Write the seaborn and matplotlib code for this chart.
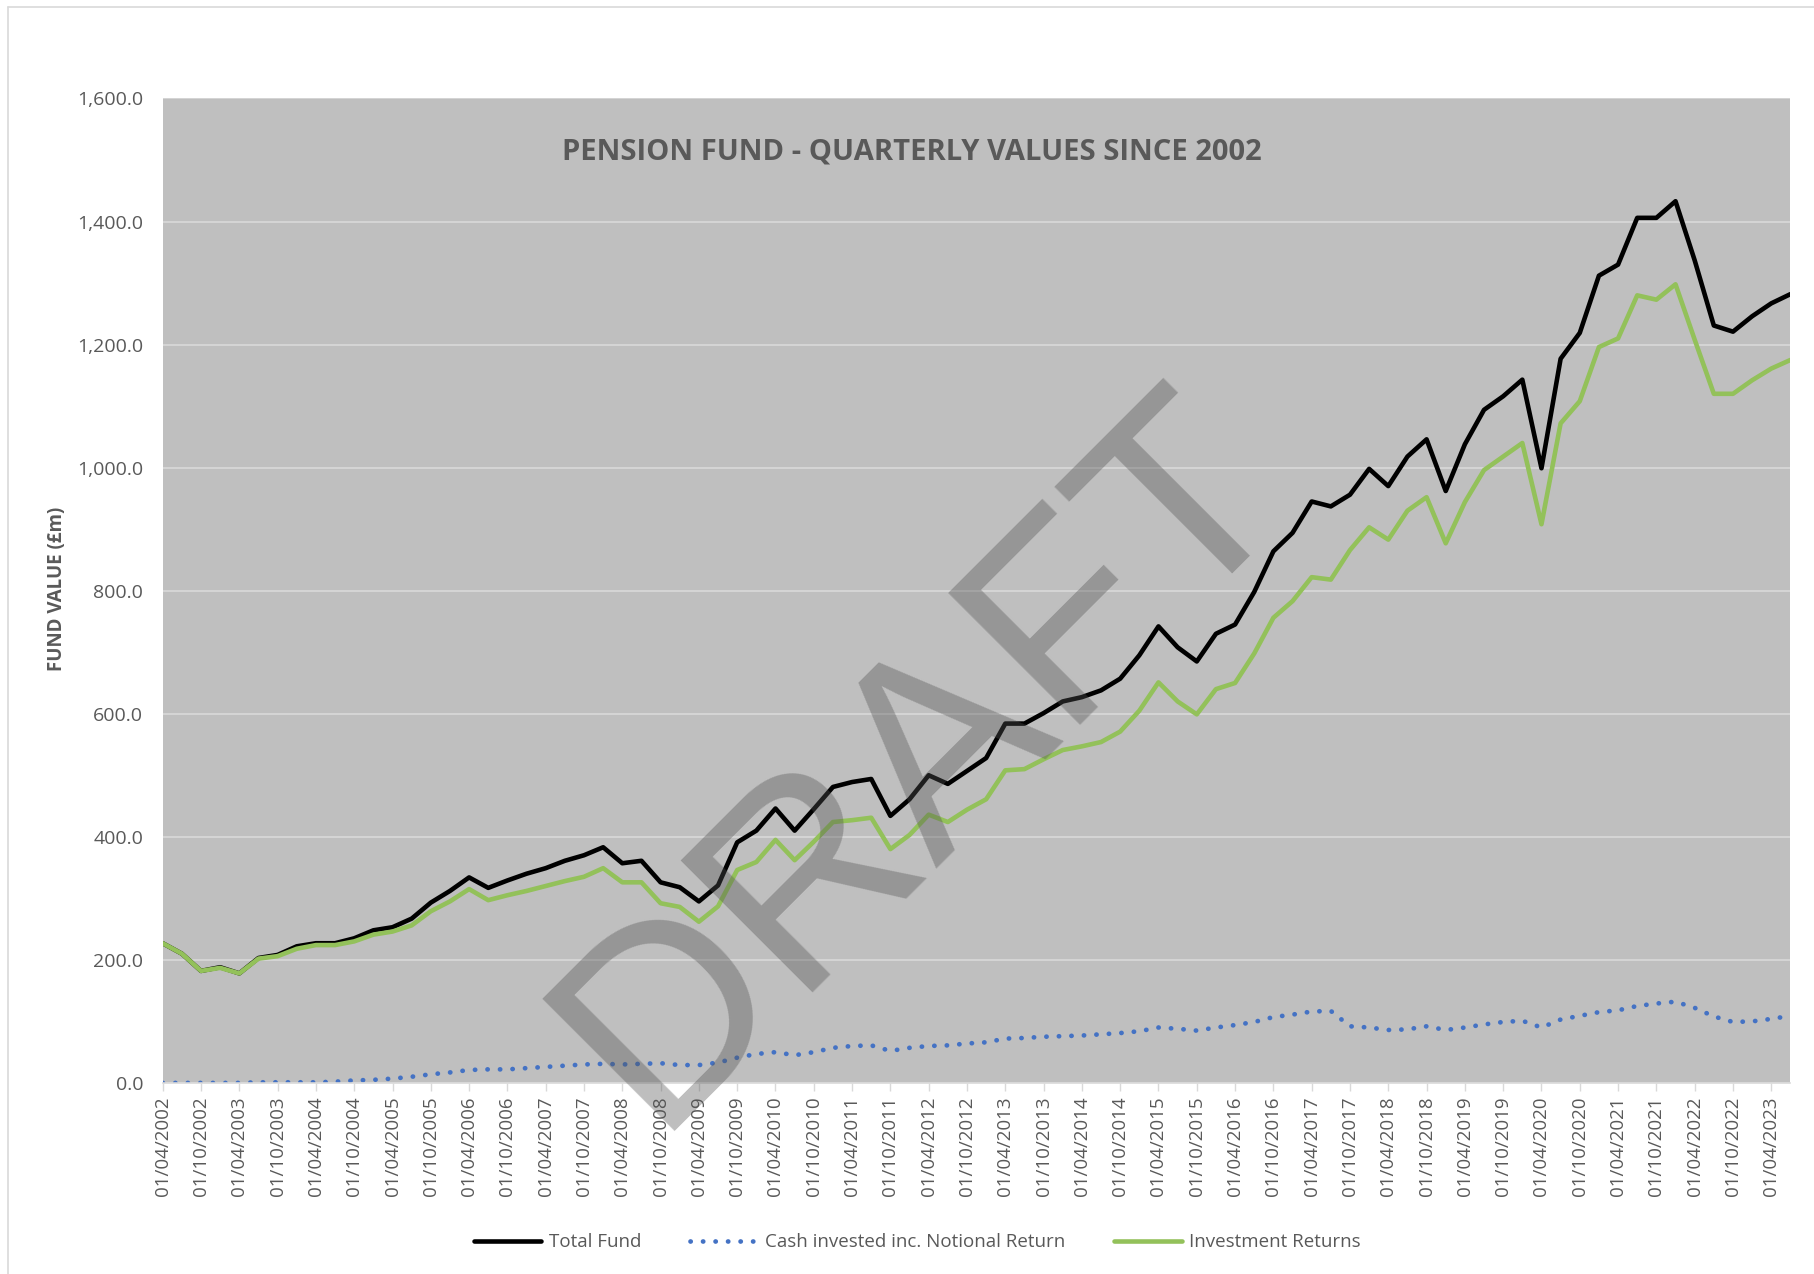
"""
Pension fund - quarterly values since 2002 (Excel style line chart, redrawn with seaborn)
"""
import numpy as np
import pandas as pd
import matplotlib.pyplot as plt
from matplotlib.lines import Line2D
from matplotlib.ticker import FuncFormatter
import seaborn as sns

# quarterly dates, 01/04/2002 .. 01/07/2023
quarters = pd.date_range("2002-04-01", "2023-07-01", freq="QS-JAN")
quarter_labels = quarters.strftime("%d/%m/%Y").tolist()

# values in £m
total_fund = [227, 210, 182, 188, 178, 203, 208, 222, 227, 227,
              235, 248, 253, 267, 293, 312, 334, 317, 329, 340,
              349, 361, 370, 383, 357, 361, 326, 318, 295, 321,
              391, 410, 446, 410, 445, 481, 489, 494, 434, 461,
              500, 486, 507, 528, 584, 584, 601, 620, 627, 638,
              657, 695, 742, 708, 685, 730, 745, 798, 864, 894,
              945, 937, 956, 998, 970, 1018, 1046, 962, 1038, 1094,
              1116, 1143, 999, 1177, 1219, 1312, 1330, 1406, 1406, 1433,
              1337, 1231, 1221, 1246, 1267, 1282]

cash_invested = [0, 0, 0, 0, 0, 1, 1, 1, 1, 2,
                 4, 5, 7, 10, 14, 17, 21, 22, 22, 24,
                 26, 28, 30, 31, 30, 31, 32, 29, 29, 33,
                 41, 47, 50, 45, 50, 57, 60, 61, 52, 57,
                 60, 61, 64, 66, 72, 73, 75, 76, 77, 79,
                 81, 84, 90, 88, 85, 90, 94, 99, 107, 111,
                 116, 117, 92, 90, 86, 87, 92, 86, 90, 95,
                 99, 101, 90, 103, 109, 115, 118, 125, 129, 132,
                 122, 108, 99, 100, 104, 109]

investment_returns = [227, 210, 182, 187, 178, 202, 206, 218, 224, 224,
                      230, 241, 246, 256, 279, 295, 315, 297, 305, 312,
                      320, 328, 335, 349, 326, 326, 292, 286, 262, 287,
                      346, 359, 395, 362, 392, 424, 427, 431, 380, 403,
                      436, 424, 444, 461, 508, 510, 526, 541, 547, 554,
                      571, 605, 651, 620, 599, 640, 650, 698, 756, 783,
                      822, 818, 866, 903, 883, 930, 952, 877, 944, 996,
                      1018, 1040, 908, 1072, 1108, 1196, 1210, 1280, 1273, 1298,
                      1208, 1120, 1120, 1142, 1161, 1175]

df = pd.DataFrame({
    "q": np.arange(len(quarters)),
    "total": total_fund,
    "cash": cash_invested,
    "returns": investment_returns,
})

GREY_TXT = "#595959"
GRID = "#d9d9d9"

sns.set_style("white")
plt.rcParams["font.family"] = ["Open Sans", "DejaVu Sans"]

fig = plt.figure(figsize=(18.14, 12.74), dpi=100)
ax = fig.add_axes([0.0897, 0.150, 0.8973, 0.7727])
ax.set_facecolor("#bfbfbf")

sns.lineplot(data=df, x="q", y="total", ax=ax, color="black", linewidth=3.3,
             label="Total Fund")
sns.lineplot(data=df, x="q", y="cash", ax=ax, color="#4472c4", linewidth=3.4,
             linestyle=(0, (0.05, 2.6)), dash_capstyle="round",
             label="Cash invested inc. Notional Return")
sns.lineplot(data=df, x="q", y="returns", ax=ax, color="#93c15a", linewidth=3.3,
             label="Investment Returns")

ax.set_xlim(0, len(quarters) - 1)
ax.set_ylim(0, 1600)
ax.set_yticks(np.arange(0, 1601, 200))
ax.yaxis.set_major_formatter(FuncFormatter(lambda v, p: f"{v:,.1f}"))
ax.set_xticks(df["q"][::2])
ax.set_xticklabels(quarter_labels[::2], rotation=90)
ax.set_xlabel("")
ax.set_ylabel("")

ax.grid(axis="y", color=GRID, linewidth=1.2)
ax.set_axisbelow(True)
for side in ["top", "right", "left"]:
    ax.spines[side].set_visible(False)
ax.spines["bottom"].set_color(GRID)
ax.spines["bottom"].set_linewidth(1.2)

ax.tick_params(axis="y", length=0, pad=14, labelsize=14, labelcolor=GREY_TXT)
ax.tick_params(axis="x", length=6, width=1, color=GRID, pad=4,
               labelsize=13.5, labelcolor=GREY_TXT, bottom=True)

fig.text(0.5028, 0.881, "PENSION FUND - QUARTERLY VALUES SINCE 2002",
         ha="center", va="center", fontsize=21, fontweight="bold", color=GREY_TXT)
fig.text(0.0312, 0.5377, "FUND VALUE (£m)", rotation=90, ha="center", va="center",
         fontsize=13.5, fontweight="bold", color=GREY_TXT)

leg = ax.legend(loc="center", bbox_to_anchor=(0.5057, 0.025),
                bbox_transform=fig.transFigure, ncol=3, frameon=False,
                fontsize=13.5, handlelength=3.6, handletextpad=0.4,
                columnspacing=2.6)
for t in leg.get_texts():
    t.set_color(GREY_TXT)

# watermark
fig.text(0.360, 0.112, "DRAFT", rotation=45, rotation_mode="anchor",
         ha="left", va="baseline", fontsize=196, family="Liberation Sans",
         color="#525252", alpha=0.375, zorder=10)

# chart area border (left and top edges visible)
fig.add_artist(Line2D([0.0044, 0.0044], [0.0, 0.9945], transform=fig.transFigure,
                      color=GRID, linewidth=1.2))
fig.add_artist(Line2D([0.0044, 1.0], [0.9945, 0.9945], transform=fig.transFigure,
                      color=GRID, linewidth=1.2))

fig.savefig("out.png", dpi=100, facecolor="white")
plt.close(fig)
